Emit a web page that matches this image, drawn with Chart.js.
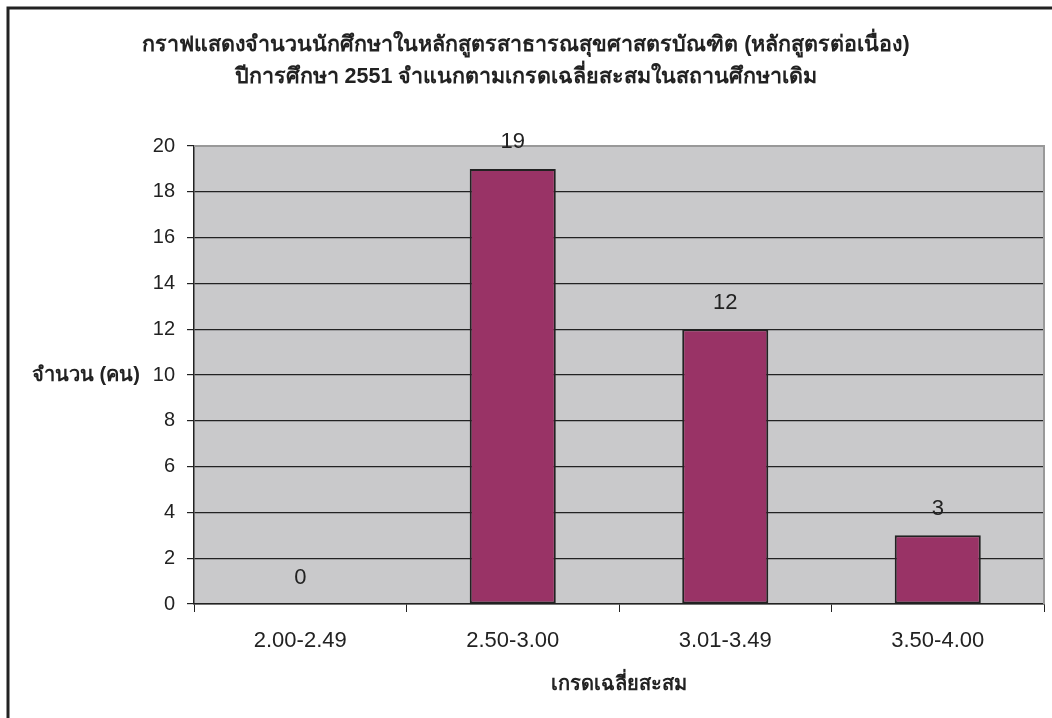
<!DOCTYPE html>
<html>
<head>
<meta charset="utf-8">
<script src="https://cdn.jsdelivr.net/npm/chart.js@4.4.1/dist/chart.umd.min.js"></script>
<style>
html,body{margin:0;padding:0;background:#fff;}
#wrap{width:1052px;height:718px;position:relative;}
</style>
</head>
<body>
<div id="wrap"><canvas id="c" width="1052" height="718"></canvas></div>
<script>
const titleLines = ['กราฟแสดงจำนวนนักศึกษาในหลักสูตรสาธารณสุขศาสตรบัณฑิต (หลักสูตรต่อเนื่อง)', 'ปีการศึกษา 2551 จำแนกตามเกรดเฉลี่ยสะสมในสถานศึกษาเดิม'];
const categories = ['2.00-2.49', '2.50-3.00', '3.01-3.49', '3.50-4.00'];
const students = [0, 19, 12, 3];
const yTitle = 'จำนวน (คน)';
const xTitle = 'เกรดเฉลี่ยสะสม';
const yMin = 0, yMax = 20, yStep = 2;

const FONT = '"Liberation Sans", Arial, "Noto Sans", sans-serif';

const decor = {
  id: 'decor',
  beforeDraw(chart) {
    const {ctx, chartArea: a} = chart;
    ctx.save();
    ctx.fillStyle = '#ffffff';
    ctx.fillRect(0, 0, chart.width, chart.height);
    ctx.fillStyle = '#c9c9cb';
    ctx.fillRect(a.left, a.top, a.right - a.left, a.bottom - a.top);
    ctx.restore();
  },
  afterDraw(chart) {
    const {ctx, chartArea: a} = chart;
    ctx.save();
    // plot frame top/right gray
    ctx.strokeStyle = '#999999';
    ctx.lineWidth = 2;
    ctx.beginPath();
    ctx.moveTo(a.left, a.top);
    ctx.lineTo(a.right, a.top);
    ctx.lineTo(a.right, a.bottom);
    ctx.stroke();
    // outer border (left and top)
    ctx.strokeStyle = '#222';
    ctx.lineWidth = 3;
    ctx.beginPath();
    ctx.moveTo(8, chart.height);
    ctx.lineTo(8, 8);
    ctx.lineTo(chart.width, 8);
    ctx.stroke();
    // titles
    ctx.fillStyle = '#222';
    ctx.textAlign = 'center';
    ctx.textBaseline = 'middle';
    ctx.font = 'bold 21.5px ' + FONT;
    ctx.fillText(titleLines[0], chart.width / 2, 45);
    ctx.fillText(titleLines[1], chart.width / 2, 77);
    ctx.font = 'bold 20px ' + FONT;
    ctx.fillText(yTitle, 86, (a.top + a.bottom) / 2);
    ctx.fillText(xTitle, (a.left + a.right) / 2, 684);
    // data labels
    ctx.font = '22px ' + FONT;
    const meta = chart.getDatasetMeta(0);
    meta.data.forEach((bar, i) => {
      ctx.fillText(String(students[i]), bar.x, bar.y - 26.5);
    });
    ctx.restore();
  }
};

new Chart(document.getElementById('c'), {
  type: 'bar',
  data: {
    labels: categories,
    datasets: [{
      data: students,
      backgroundColor: '#993366',
      borderColor: '#222222',
      borderWidth: 2,
      borderSkipped: false,
      categoryPercentage: 1,
      barPercentage: 0.405
    }]
  },
  options: {
    responsive: false,
    animation: false,
    devicePixelRatio: 1,
    layout: {padding: {left: 0, top: 146, right: 8, bottom: 0}},
    plugins: {legend: {display: false}, title: {display: false}, tooltip: {enabled: false}},
    scales: {
      x: {
        afterFit(s) { s.height = 114; },
        grid: {display: true, drawOnChartArea: false, drawTicks: true, tickLength: 8, color: '#222', offset: true},
        border: {display: true, color: '#222', width: 1.5},
        ticks: {color: '#222', font: {family: FONT, size: 22}, padding: 16}
      },
      y: {
        min: yMin, max: yMax,
        afterFit(s) { s.width = 194; },
        grid: {color: '#222', lineWidth: 1.2, tickLength: 7, tickColor: '#222'},
        border: {display: true, color: '#222', width: 1.5},
        ticks: {stepSize: yStep, color: '#222', font: {family: FONT, size: 20}, padding: 12}
      }
    }
  },
  plugins: [decor]
});
</script>
</body>
</html>
